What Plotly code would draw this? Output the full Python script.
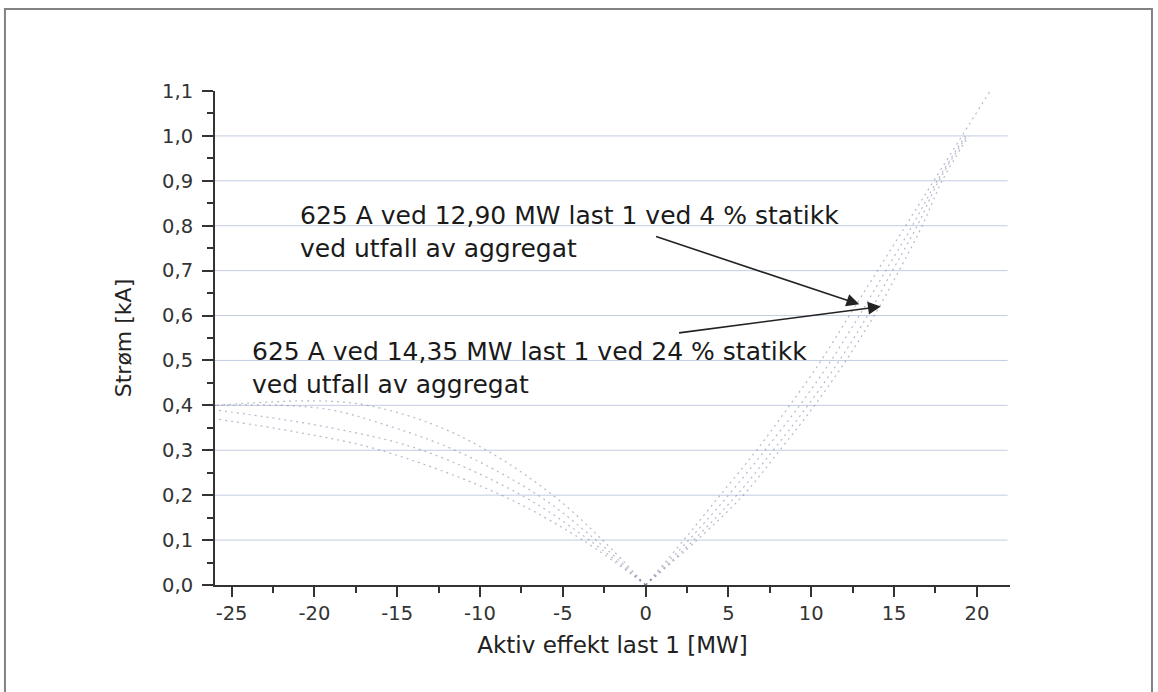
import plotly.graph_objects as go

# ---- data ----
right_y = [0.0, 0.1, 0.2, 0.3, 0.4, 0.5, 0.6, 0.7, 0.8, 0.9, 1.0, 1.1]
right_x1 = [0, 2.3, 4.5, 6.7, 8.7, 10.6, 12.3, 14.0, 15.7, 17.4, 19.1, 20.8]
right_x2 = [0, 2.6, 5.0, 7.2, 9.3, 11.2, 12.9, 14.5, 16.1, 17.6, 19.3]
right_x3 = [0, 2.9, 5.5, 7.7, 9.8, 11.7, 13.4, 14.9, 16.4, 17.7, 19.4]
right_x4 = [0, 3.1, 5.9, 8.1, 10.2, 12.1, 13.8, 15.3, 16.7, 17.9, 19.5]

left_x1 = [0, -2.6, -5.6, -9.6, -13.0, -16.8, -20.0, -26.0]
left_y1 = [0, 0.10, 0.20, 0.30, 0.36, 0.40, 0.41, 0.40]
left_x2 = [0, -3.0, -6.5, -11.5, -16.0, -19.0, -22.0, -26.0]
left_y2 = [0, 0.10, 0.20, 0.30, 0.36, 0.39, 0.40, 0.40]
left_x3 = [0, -3.4, -7.5, -13.5, -19.0, -26.0]
left_y3 = [0, 0.10, 0.20, 0.30, 0.35, 0.39]
left_x4 = [0, -3.8, -8.7, -16.0, -21.0, -26.0]
left_y4 = [0, 0.10, 0.20, 0.30, 0.34, 0.37]

x_tick_vals = [-25, -20, -15, -10, -5, 0, 5, 10, 15, 20]
x_tick_text = ["-25", "-20", "-15", "-10", "-5", "0", "5", "10", "15", "20"]
y_tick_vals = [0.0, 0.1, 0.2, 0.3, 0.4, 0.5, 0.6, 0.7, 0.8, 0.9, 1.0, 1.1]
y_tick_text = ["0,0", "0,1", "0,2", "0,3", "0,4", "0,5", "0,6", "0,7", "0,8", "0,9", "1,0", "1,1"]
grid_y = [0.1, 0.2, 0.3, 0.4, 0.5, 0.6, 0.7, 0.8, 0.9, 1.0]

label1 = "625 A ved 12,90 MW last 1 ved 4 % statikk<br>ved utfall av aggregat"
label2 = "625 A ved 14,35 MW last 1 ved 24 % statikk<br>ved utfall av aggregat"
point1 = (12.9, 0.625)
point2 = (14.2, 0.62)

FONT = "DejaVu Sans"
CURVE = "rgba(110,118,155,0.5)"

fig = go.Figure()

curves = [
    (right_x1, right_y), (right_x2, right_y[:len(right_x2)]),
    (right_x3, right_y[:len(right_x3)]), (right_x4, right_y[:len(right_x4)]),
    (left_x1, left_y1), (left_x2, left_y2), (left_x3, left_y3), (left_x4, left_y4),
]
for xs, ys in curves:
    fig.add_trace(go.Scatter(
        x=xs, y=ys, mode="lines", line=dict(color=CURVE, width=1.2, dash="2px,4px"),
        line_shape="spline", showlegend=False, hoverinfo="skip"))

# horizontal grid lines
for gy in grid_y:
    fig.add_shape(type="line", xref="paper", yref="y", x0=0, x1=0.997, y0=gy, y1=gy,
                  line=dict(color="rgb(196,204,226)", width=1), layer="below")

# outer frame
fig.add_shape(type="rect", xref="paper", yref="paper", x0=-0.2642, x1=1.1786,
              y0=-0.25, y1=1.166, line=dict(color="rgb(130,130,130)", width=2))

# annotation texts
fig.add_annotation(x=-21.0, y=0.787, xref="x", yref="y", text=label1, showarrow=False,
                   xanchor="left", yanchor="middle", align="left",
                   font=dict(family=FONT, size=25, color="#1a1a1a"))
fig.add_annotation(x=-23.9, y=0.484, xref="x", yref="y", text=label2, showarrow=False,
                   xanchor="left", yanchor="middle", align="left",
                   font=dict(family=FONT, size=25, color="#1a1a1a"))
# arrows
fig.add_annotation(x=point1[0], y=point1[1], ax=0.54, ay=0.777, xref="x", yref="y",
                   axref="x", ayref="y", text="", showarrow=True, arrowhead=2,
                   arrowsize=1.6, arrowwidth=1.6, arrowcolor="#222")
fig.add_annotation(x=point2[0], y=point2[1], ax=1.93, ay=0.561, xref="x", yref="y",
                   axref="x", ayref="y", text="", showarrow=True, arrowhead=2,
                   arrowsize=1.6, arrowwidth=1.6, arrowcolor="#222")

fig.update_layout(
    width=1158, height=692,
    margin=dict(l=215, r=148, t=91, b=107),
    paper_bgcolor="white", plot_bgcolor="white",
    font=dict(family=FONT, size=18, color="#333"),
    showlegend=False,
)
fig.update_xaxes(
    range=[-26, 22], showgrid=False, zeroline=False,
    showline=True, linecolor="#333", linewidth=2,
    tickvals=x_tick_vals, ticktext=x_tick_text,
    ticks="outside", ticklen=10, tickwidth=2, tickcolor="#333",
    minor=dict(dtick=2.5, tick0=0, ticks="outside", ticklen=6, tickwidth=2, tickcolor="#333"),
    tickfont=dict(family=FONT, size=19.5, color="#333"),
    title=dict(text="Aktiv effekt last 1 [MW]", font=dict(family=FONT, size=23, color="#222"), standoff=12),
)
fig.update_yaxes(
    range=[0, 1.1], showgrid=False, zeroline=False,
    showline=True, linecolor="#333", linewidth=2,
    tickvals=y_tick_vals, ticktext=y_tick_text,
    ticks="outside", ticklen=11, tickwidth=2, tickcolor="#333",
    ticklabelstandoff=5,
    minor=dict(dtick=0.05, tick0=0, ticks="outside", ticklen=6, tickwidth=2, tickcolor="#333"),
    tickfont=dict(family=FONT, size=19.5, color="#333"),
    title=dict(text="Strøm [kA]", font=dict(family=FONT, size=22, color="#222"), standoff=24),
)

fig.write_html("out.html", config={"displayModeBar": False},
               post_script="document.body.style.margin='0';")
